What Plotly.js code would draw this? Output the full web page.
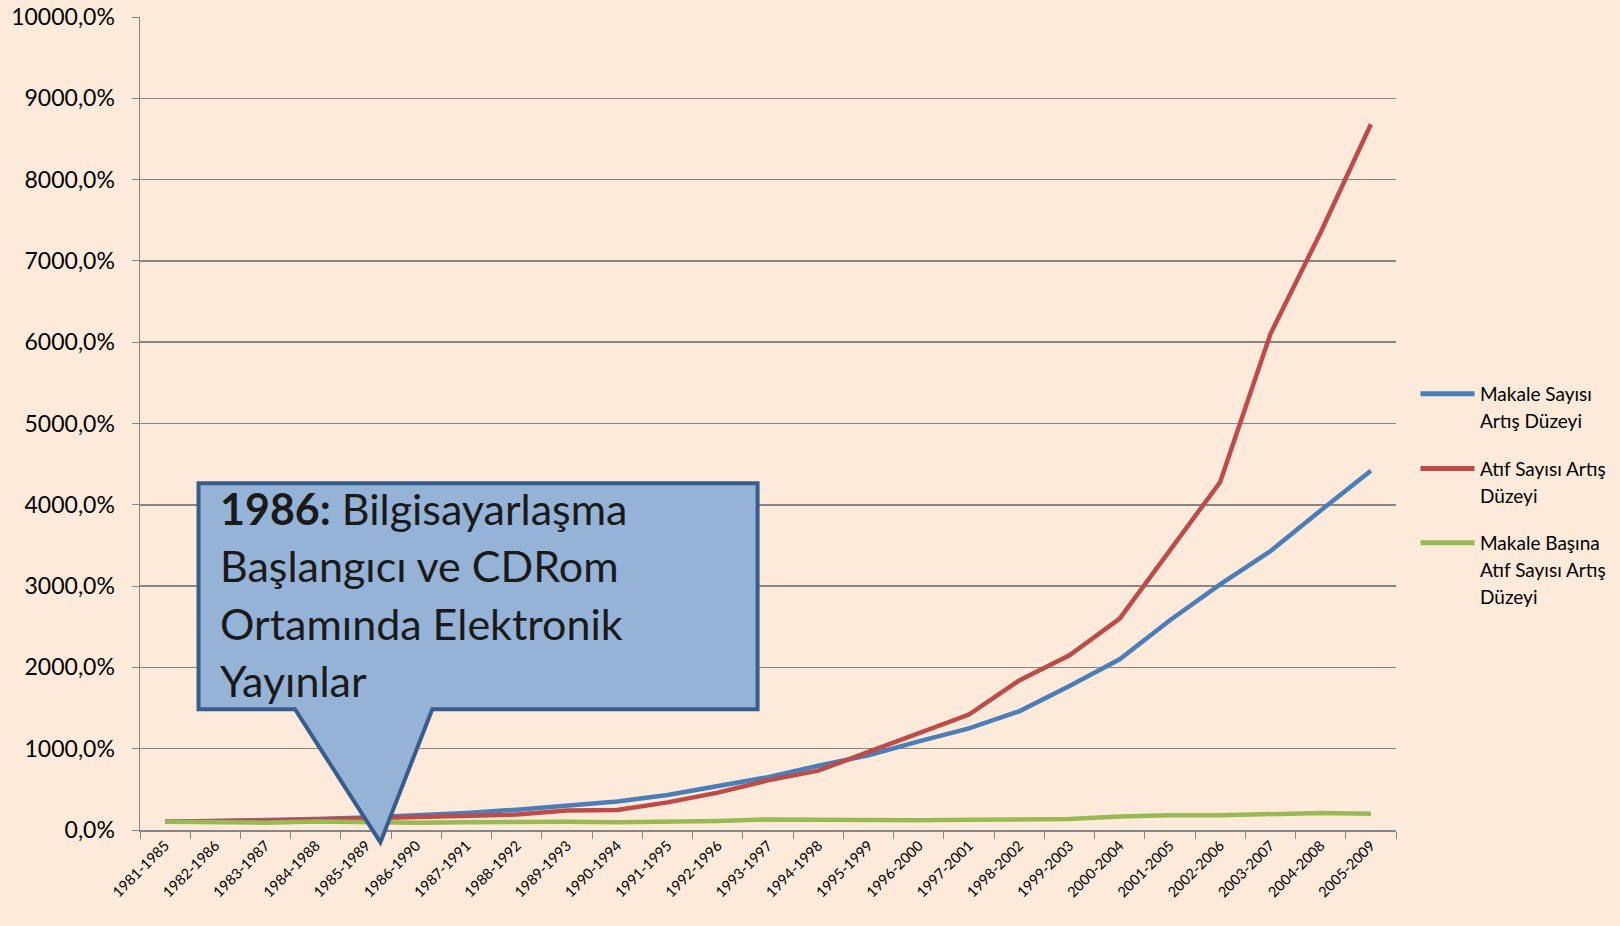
<!DOCTYPE html>
<html>
<head>
<meta charset="utf-8">
<script src="https://cdn.plot.ly/plotly-3.0.1.min.js"></script>
<style>html,body{margin:0;padding:0;background:#FDEADA;}#chart{width:1620px;height:926px;}</style>
</head>
<body>
<div id="chart"></div>
<script>
const periods = ["1981-1985","1982-1986","1983-1987","1984-1988","1985-1989","1986-1990","1987-1991","1988-1992","1989-1993","1990-1994","1991-1995","1992-1996","1993-1997","1994-1998","1995-1999","1996-2000","1997-2001","1998-2002","1999-2003","2000-2004","2001-2005","2002-2006","2003-2007","2004-2008","2005-2009"];
const makaleSayisi = [100,110,120,135,155,180,210,250,295,350,430,540,650,790,920,1090,1250,1460,1770,2100,2580,3020,3430,3930,4420];
const atifSayisi = [100,105,115,130,145,150,165,190,240,245,340,460,610,730,960,1190,1420,1840,2150,2600,3450,4280,6100,7350,8680];
const makaleBasinaAtif = [100,95,90,105,95,90,95,100,100,95,100,110,130,125,130,120,125,135,135,165,180,180,195,210,200];
const seriesNames = ["Makale Sayısı<br>Artış Düzeyi","Atıf Sayısı Artış<br>Düzeyi","Makale Başına<br>Atıf Sayısı Artış<br>Düzeyi"];
const seriesColors = ["#4A7EBB","#BE4B48","#98B954"];
const calloutLines = ["<b>1986:</b> Bilgisayarlaşma","Başlangıcı ve CDRom","Ortamında Elektronik","Yayınlar"];

const font = "Lato, 'Open Sans', sans-serif";
const data = [makaleSayisi, atifSayisi, makaleBasinaAtif].map((v,i)=>({
  type:"scatter", mode:"lines", x:periods, y:v, name:seriesNames[i],
  line:{color:seriesColors[i], width:4.5}, showlegend:false
}));

// callout geometry (paper coords)
const bx0=0.0466, bx1=0.4917, by0=0.1486, by1=0.4265;
const pl=0.1234, pr=0.2327, tx=0.1914, ty=-0.0153;
const path = `M ${bx0},${by1} L ${bx1},${by1} L ${bx1},${by0} L ${pr},${by0} L ${tx},${ty} L ${pl},${by0} L ${bx0},${by0} Z`;

const lineStep = 0.0707;
const annotations = calloutLines.map((t,i)=>({
  xref:"paper", yref:"paper", x:0.0622, y:0.3955 - i*lineStep, xanchor:"left", yanchor:"middle",
  text:t, showarrow:false, align:"left", font:{family:font, size:43, color:"#1a1a1a"}
}));

// custom legend
const legY = [0.5366, 0.4447, 0.3532];
const legStep = 0.0332;
const shapes = [{type:"path", xref:"paper", yref:"paper", path:path, fillcolor:"#95B3D7",
    line:{color:"#385D8A", width:4}, layer:"above"}];
seriesNames.forEach((n,i)=>{
  shapes.push({type:"line", xref:"paper", yref:"paper", x0:1.0195, x1:1.0625, y0:legY[i], y1:legY[i],
    line:{color:seriesColors[i], width:5}});
  n.split("<br>").forEach((ln,j)=>{
    annotations.push({xref:"paper", yref:"paper", x:1.0655, y:legY[i]-j*legStep, xanchor:"left", yanchor:"middle",
      text:ln, showarrow:false, align:"left", font:{family:font, size:19, color:"#000"}});
  });
});

const layout = {
  width:1620, height:926,
  paper_bgcolor:"#FDEADA", plot_bgcolor:"#FDEADA",
  separators:",.",
  margin:{l:139.5, r:224, t:16.5, b:96.4},
  font:{family:font, color:"#000"},
  showlegend:false,
  xaxis:{type:"category", tickson:"boundaries", ticks:"outside", ticklen:7, tickcolor:"#868686",
    showline:true, linecolor:"#868686", linewidth:1.5, showgrid:false, tickangle:-45,
    tickfont:{family:font, size:14.5, color:"#000"}, range:[-0.5,24.5]},
  yaxis:{range:[0,10000], dtick:1000, tickformat:".1f", ticksuffix:"%", showgrid:true,
    gridcolor:"#868686", gridwidth:1.5, showline:true, linecolor:"#868686", linewidth:1.5,
    ticks:"outside", ticklen:7, tickcolor:"#868686", zeroline:false, ticklabelstandoff:12,
    tickfont:{family:font, size:23, color:"#000"}},
  shapes:shapes,
  annotations:annotations
};
Plotly.newPlot("chart", data, layout, {displayModeBar:false, staticPlot:true});
</script>
</body>
</html>
